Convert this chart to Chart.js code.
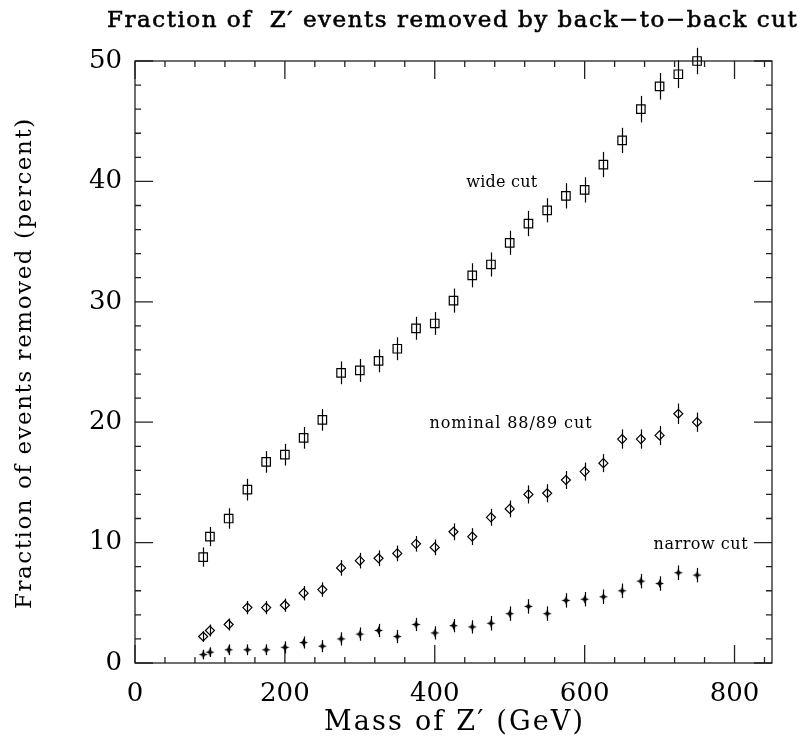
<!DOCTYPE html>
<html>
<head>
<meta charset="utf-8">
<script src="https://cdn.jsdelivr.net/npm/chart.js@4/dist/chart.umd.min.js"></script>
<style>
  html, body { margin: 0; padding: 0; background: #fff; }
  canvas { display: block; }
</style>
</head>
<body>
<canvas id="chart" width="806" height="748"></canvas>
<script>
// Z' mass points (GeV)
const masses = [91, 100, 125, 150, 175, 200, 225, 250, 275, 300, 325, 350, 375, 400,
  425, 450, 475, 500, 525, 550, 575, 600, 625, 650, 675, 700, 725, 750];

// fraction removed (percent) and errors
const wideCut = [8.8, 10.5, 12.0, 14.4, 16.7, 17.3, 18.7, 20.2, 24.1, 24.3, 25.1, 26.1, 27.8, 28.2,
  30.1, 32.2, 33.1, 34.9, 36.5, 37.6, 38.8, 39.3, 41.4, 43.4, 46.0, 47.9, 48.9, 50.0];
const wideErr = [0.8, 0.8, 0.85, 0.9, 0.9, 0.9, 0.9, 0.9, 0.95, 0.95, 0.95, 0.95, 0.95, 0.95,
  1.0, 1.0, 1.0, 1.0, 1.05, 1.0, 1.05, 1.05, 1.05, 1.05, 1.1, 1.1, 1.15, 1.1];

const nominalCut = [2.2, 2.7, 3.2, 4.6, 4.6, 4.8, 5.8, 6.1, 7.9, 8.5, 8.7, 9.1, 9.9, 9.6,
  10.9, 10.5, 12.1, 12.8, 14.0, 14.1, 15.2, 15.9, 16.6, 18.6, 18.6, 18.9, 20.7, 20.0];
const nominalErr = [0.45, 0.5, 0.5, 0.55, 0.55, 0.55, 0.6, 0.6, 0.65, 0.65, 0.65, 0.65, 0.65, 0.65,
  0.7, 0.7, 0.7, 0.7, 0.75, 0.75, 0.75, 0.75, 0.75, 0.8, 0.8, 0.8, 0.85, 0.8];

const narrowCut = [0.7, 0.9, 1.1, 1.1, 1.1, 1.3, 1.7, 1.4, 2.0, 2.4, 2.7, 2.2, 3.2, 2.5,
  3.1, 3.0, 3.3, 4.1, 4.7, 4.1, 5.2, 5.3, 5.5, 6.0, 6.8, 6.6, 7.5, 7.3];
const narrowErr = [0.4, 0.4, 0.45, 0.45, 0.45, 0.5, 0.5, 0.5, 0.55, 0.55, 0.55, 0.55, 0.55, 0.55,
  0.55, 0.55, 0.6, 0.6, 0.6, 0.6, 0.6, 0.6, 0.6, 0.6, 0.6, 0.6, 0.6, 0.6];

const xTickLabels = [0, 200, 400, 600, 800];
const yTickLabels = [0, 10, 20, 30, 40, 50];

const curveLabels = [
  { text: "wide cut", x: 442, y: 39.9, w: 71 },
  { text: "nominal 88/89 cut", x: 393, y: 19.85, w: 162 },
  { text: "narrow cut", x: 692, y: 9.8, w: 94 }
];

const serif = "'DejaVu Serif', serif";
const ink = "#000";

// small filled four-point star for the narrow cut
function makeStar() {
  const c = document.createElement("canvas");
  c.width = 11; c.height = 11;
  const g = c.getContext("2d");
  g.fillStyle = ink;
  g.beginPath();
  g.moveTo(5.5, 1); g.lineTo(6.7, 4.3); g.lineTo(10, 5.5); g.lineTo(6.7, 6.7);
  g.lineTo(5.5, 10); g.lineTo(4.3, 6.7); g.lineTo(1, 5.5); g.lineTo(4.3, 4.3);
  g.closePath();
  g.fill();
  return c;
}

function toPoints(vals) {
  return masses.map((m, i) => ({ x: m, y: vals[i] }));
}

// draw text left-aligned at (x, y), stretched to a given width with letter spacing
function spacedText(ctx, text, font, x, y, width, stroke) {
  ctx.font = font + " " + serif;
  ctx.letterSpacing = "0px";
  const w = ctx.measureText(text).width;
  const sp = (width - w) / Math.max(1, text.length - 1);
  ctx.letterSpacing = sp.toFixed(2) + "px";
  ctx.fillText(text, x, y);
  if (stroke) {
    ctx.strokeStyle = ink;
    ctx.lineWidth = stroke;
    ctx.strokeText(text, x, y);
  }
  ctx.letterSpacing = "0px";
}

// vertical error bars, drawn through the markers
const errorBars = {
  id: "errorBars",
  beforeDatasetsDraw(chart) {
    const { ctx, scales: { x, y } } = chart;
    const sets = [[wideCut, wideErr], [nominalCut, nominalErr], [narrowCut, narrowErr]];
    ctx.save();
    ctx.strokeStyle = ink;
    ctx.lineWidth = 1.2;
    sets.forEach(([vals, errs]) => {
      vals.forEach((v, i) => {
        const px = Math.round(x.getPixelForValue(masses[i])) + 0.5;
        ctx.beginPath();
        ctx.moveTo(px, y.getPixelForValue(v - errs[i]));
        ctx.lineTo(px, y.getPixelForValue(v + errs[i]));
        ctx.stroke();
      });
    });
    ctx.restore();
  }
};

// box with inward ticks on all four sides
const frame = {
  id: "frame",
  beforeDatasetsDraw(chart) {
    const { ctx, chartArea: a, scales: { x, y } } = chart;
    ctx.save();
    ctx.strokeStyle = "#222";
    ctx.lineWidth = 1.3;
    ctx.strokeRect(a.left, a.top, a.right - a.left, a.bottom - a.top);
    ctx.beginPath();
    for (let v = 0; v <= x.max; v += 40) {
      const px = x.getPixelForValue(v);
      const len = v % 200 === 0 ? 18 : 6;
      ctx.moveTo(px, a.bottom); ctx.lineTo(px, a.bottom - len);
      ctx.moveTo(px, a.top); ctx.lineTo(px, a.top + len);
    }
    for (let v = 0; v <= y.max; v += 2) {
      const py = y.getPixelForValue(v);
      const len = v % 10 === 0 ? 18 : 6;
      ctx.moveTo(a.left, py); ctx.lineTo(a.left + len, py);
      ctx.moveTo(a.right, py); ctx.lineTo(a.right - len, py);
    }
    ctx.stroke();
    ctx.restore();
  }
};

const texts = {
  id: "texts",
  afterDraw(chart) {
    const { ctx, scales: { x, y } } = chart;
    ctx.save();
    ctx.fillStyle = ink;
    ctx.textAlign = "left";
    ctx.textBaseline = "alphabetic";

    spacedText(ctx, "Fraction of  Z\u2032 events removed by back\u2212to\u2212back cut", "23px", 107, 27, 690, 0.6);
    spacedText(ctx, "Mass of Z\u2032 (GeV)", "27px", 324, 730, 259);

    ctx.save();
    ctx.translate(31, 609);
    ctx.rotate(-Math.PI / 2);
    spacedText(ctx, "Fraction of events removed (percent)", "23px", 0, 0, 490);
    ctx.restore();

    ctx.textBaseline = "middle";
    curveLabels.forEach(l => {
      spacedText(ctx, l.text, "16px", x.getPixelForValue(l.x), y.getPixelForValue(l.y), l.w);
    });
    ctx.restore();
  }
};

new Chart(document.getElementById("chart"), {
  type: "scatter",
  data: {
    datasets: [
      {
        label: "wide cut",
        data: toPoints(wideCut),
        pointStyle: "rect",
        pointRadius: 6,
        borderColor: ink,
        backgroundColor: "rgba(0,0,0,0)",
        borderWidth: 1.2,
        clip: false
      },
      {
        label: "nominal 88/89 cut",
        data: toPoints(nominalCut),
        pointStyle: "rectRot",
        pointRadius: 4.5,
        borderColor: ink,
        backgroundColor: "rgba(0,0,0,0)",
        borderWidth: 1.2,
        clip: false
      },
      {
        label: "narrow cut",
        data: toPoints(narrowCut),
        pointStyle: makeStar(),
        pointRadius: 5,
        borderColor: ink,
        backgroundColor: ink,
        clip: false
      }
    ]
  },
  options: {
    responsive: false,
    animation: false,
    events: [],
    devicePixelRatio: 1,
    layout: { padding: { top: 61, right: 34, left: 0, bottom: 0 } },
    plugins: {
      legend: { display: false },
      tooltip: { enabled: false }
    },
    scales: {
      x: {
        type: "linear",
        min: 0,
        max: 850,
        grid: { display: false, drawTicks: false },
        border: { display: false },
        afterBuildTicks: s => { s.ticks = xTickLabels.map(v => ({ value: v })); },
        afterFit: s => { s.height = 85; },
        ticks: {
          padding: 16,
          maxRotation: 0,
          color: ink,
          font: { family: serif, size: 26 }
        }
      },
      y: {
        type: "linear",
        min: 0,
        max: 50,
        grid: { display: false, drawTicks: false },
        border: { display: false },
        afterBuildTicks: s => { s.ticks = yTickLabels.map(v => ({ value: v })); },
        afterFit: s => { s.width = 135; },
        ticks: {
          padding: 13,
          color: ink,
          font: { family: serif, size: 26 }
        }
      }
    }
  },
  plugins: [frame, errorBars, texts]
});
</script>
</body>
</html>
